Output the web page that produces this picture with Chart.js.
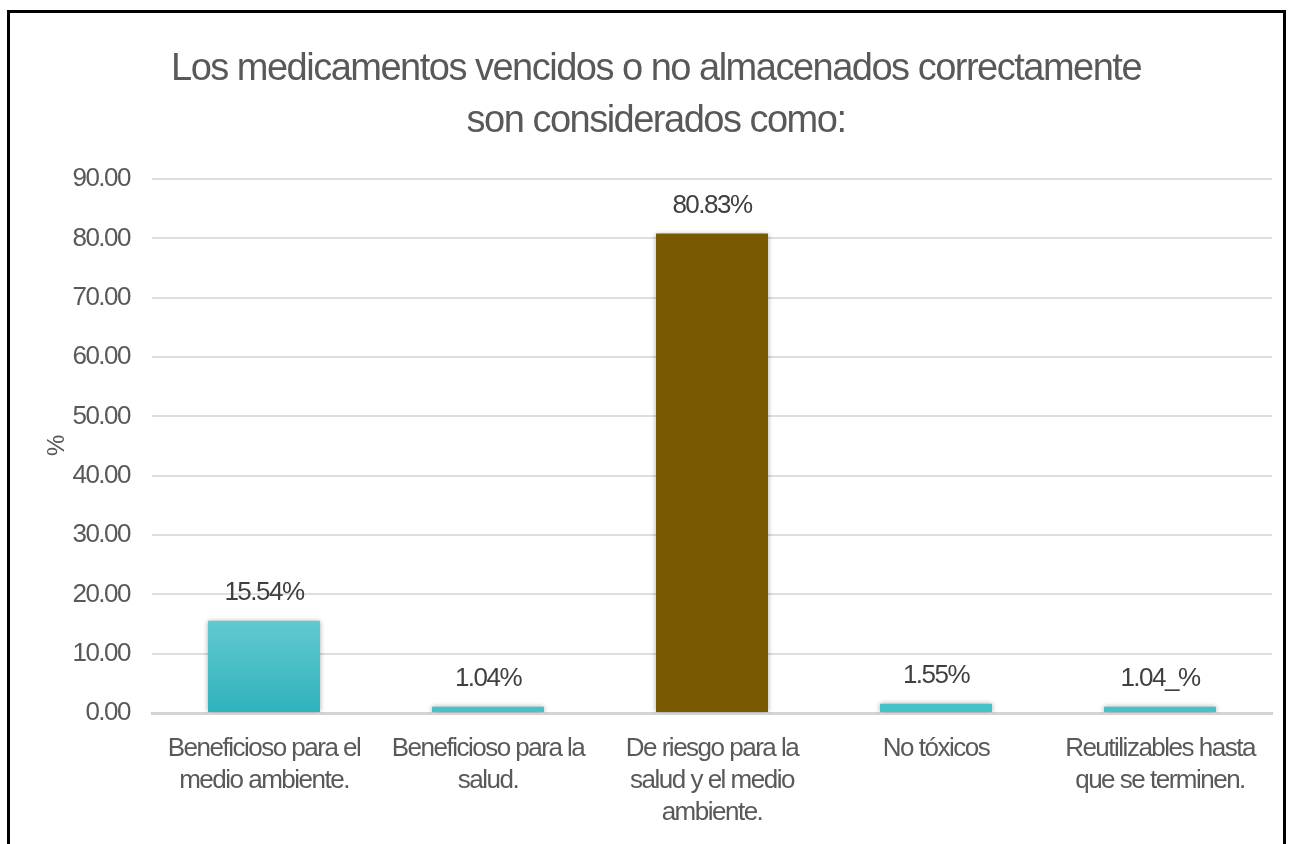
<!DOCTYPE html>
<html>
<head>
<meta charset="utf-8">
<script src="https://cdn.jsdelivr.net/npm/chart.js@4.4.1/dist/chart.umd.min.js"></script>
<style>
  html, body { margin: 0; padding: 0; background: #fff; }
  #wrap { position: relative; width: 1290px; height: 844px; overflow: hidden; }
  #frame { position: absolute; left: 7px; top: 10px; width: 1279px; height: 900px; border: 3px solid #000; box-sizing: border-box; pointer-events: none; }
  canvas { position: absolute; left: 0; top: 0; }
</style>
</head>
<body>
<div id="wrap">
  <canvas id="c" width="1290" height="844"></canvas>
  <div id="frame"></div>
</div>
<script>
const titleLines = ["Los medicamentos vencidos o no almacenados correctamente", "son considerados como:"];
const categories = [
  ["Beneficioso para el", "medio ambiente."],
  ["Beneficioso para la", "salud."],
  ["De riesgo para la", "salud y el medio", "ambiente."],
  ["No tóxicos"],
  ["Reutilizables hasta", "que se terminen."]
];
const values = [15.54, 1.04, 80.83, 1.55, 1.04];
const valueLabels = ["15.54%", "1.04%", "80.83%", "1.55%", "1.04_%"];
const yTitle = "%";
const yMax = 90;
const yStep = 10;

const FONT = '"Liberation Sans", Arial, sans-serif';
const SPACING = '-1.5px';

const canvas = document.getElementById('c');

function barColor(context) {
  const i = context.dataIndex;
  if (i === 2) return '#7a5a00';
  if (i === 0) {
    const chart = context.chart;
    const area = chart.chartArea;
    const ys = chart.scales && chart.scales.y;
    if (!area || !ys) return '#45c1c9';
    const top = ys.getPixelForValue(values[0]);
    const bottom = area.bottom;
    if (!isFinite(top) || !isFinite(bottom) || top === bottom) return '#45c1c9';
    const g = chart.ctx.createLinearGradient(0, top, 0, bottom);
    g.addColorStop(0, '#62c9d0');
    g.addColorStop(1, '#2fb2bd');
    return g;
  }
  return '#45c1c9';
}

const spacingPlugin = {
  id: 'narrowText',
  beforeUpdate(chart) { chart.ctx.letterSpacing = SPACING; },
  beforeLayout(chart) { chart.ctx.letterSpacing = SPACING; },
  beforeDraw(chart) { chart.ctx.letterSpacing = SPACING; }
};

const shadowPlugin = {
  id: 'barShadow',
  beforeDatasetDraw(chart) {
    const c = chart.ctx;
    c.save();
    c.shadowColor = 'rgba(0,0,0,0.35)';
    c.shadowBlur = 5;
    c.shadowOffsetX = 0;
    c.shadowOffsetY = 0;
  },
  afterDatasetDraw(chart) {
    chart.ctx.restore();
  }
};

const labelPlugin = {
  id: 'valueLabels',
  afterDatasetsDraw(chart) {
    const c = chart.ctx;
    const meta = chart.getDatasetMeta(0);
    c.save();
    c.letterSpacing = SPACING;
    c.font = '26px ' + FONT;
    c.fillStyle = '#404040';
    c.textAlign = 'center';
    c.textBaseline = 'middle';
    meta.data.forEach((bar, i) => {
      c.fillText(valueLabels[i], bar.x, bar.y - 28);
    });
    c.restore();
  }
};

new Chart(canvas, {
  type: 'bar',
  data: {
    labels: categories,
    datasets: [{
      data: values,
      backgroundColor: barColor,
      borderWidth: 0,
      categoryPercentage: 1.0,
      barPercentage: 0.5
    }]
  },
  options: {
    responsive: false,
    animation: false,
    devicePixelRatio: 1,
    layout: { padding: { left: 40, right: 18, top: 0, bottom: 0 } },
    plugins: {
      legend: { display: false },
      tooltip: { enabled: false },
      title: {
        display: true,
        text: titleLines,
        color: '#595959',
        font: { family: FONT, size: 38, weight: 'normal', lineHeight: 1.37 },
        padding: { top: 43, bottom: 32 }
      }
    },
    scales: {
      x: {
        grid: { display: false, drawTicks: false },
        border: { display: true, color: '#d4d4d4', width: 3 },
        ticks: {
          color: '#595959',
          font: { family: FONT, size: 26, lineHeight: 1.23 },
          padding: 20,
          maxRotation: 0,
          autoSkip: false
        },
        afterFit(scale) { scale.height = 131; }
      },
      y: {
        min: 0,
        max: yMax,
        grid: { color: '#dedede', lineWidth: 2, drawTicks: false },
        border: { display: false },
        ticks: {
          stepSize: yStep,
          color: '#595959',
          font: { family: FONT, size: 26 },
          padding: 22,
          callback: (v) => Number(v).toFixed(2)
        },
        title: {
          display: true,
          text: yTitle,
          color: '#595959',
          font: { family: FONT, size: 24 },
          padding: { top: 3, bottom: 0 }
        },
        afterFit(scale) { scale.width = 112; }
      }
    }
  },
  plugins: [spacingPlugin, shadowPlugin, labelPlugin]
});
</script>
</body>
</html>
